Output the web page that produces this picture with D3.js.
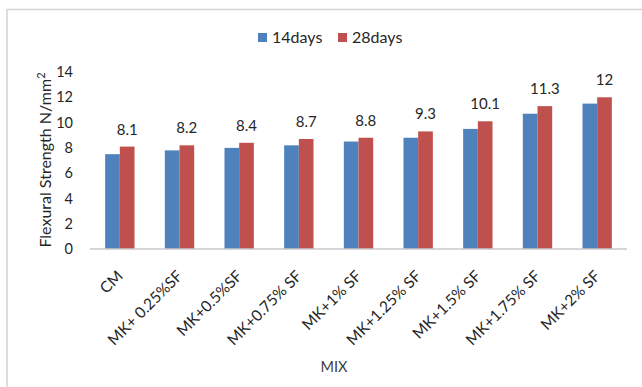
<!DOCTYPE html>
<html>
<head>
<meta charset="utf-8">
<script src="https://cdn.jsdelivr.net/npm/d3@7"></script>
<style>
  html, body { margin: 0; padding: 0; background: #fff; }
  svg { display: block; font-family: Lato, "Open Sans", sans-serif; }
</style>
</head>
<body>
<svg id="chart" width="642" height="387"></svg>
<script>
// Flexural strength of the mixes at 14 and 28 days
const categories = ["CM", "MK+ 0.25%SF", "MK+0.5%SF", "MK+0.75% SF", "MK+1% SF",
                    "MK+1.25% SF", "MK+1.5% SF", "MK+1.75% SF", "MK+2% SF"];
const seriesNames = ["14days", "28days"];
const days14 = [7.5, 7.8, 8.0, 8.2, 8.5, 8.8, 9.5, 10.7, 11.5];
const days28 = [8.1, 8.2, 8.4, 8.7, 8.8, 9.3, 10.1, 11.3, 12];
const yTicks = [0, 2, 4, 6, 8, 10, 12, 14];
const colors = ["#4F81BD", "#C0504D"];

const svg = d3.select("#chart");

// chart frame
svg.append("rect")
  .attr("x", 7).attr("y", 9.5)
  .attr("width", 660).attr("height", 400)
  .attr("fill", "none").attr("stroke", "#d4d4d4").attr("stroke-width", 1.5);

const plot = { left: 90, right: 627, top: 72, bottom: 249 };

const x0 = d3.scaleBand().domain(categories).range([plot.left, plot.right]).padding(0);
const x1 = d3.scaleBand().domain(seriesNames)
  .range([x0.bandwidth() * 0.254, x0.bandwidth() * 0.746]).padding(0);
const y = d3.scaleLinear().domain([0, 14]).range([plot.bottom, plot.top]);

const rows = categories.map((c, i) => ({ cat: c, vals: [days14[i], days28[i]] }));

// bars
const groups = svg.append("g").selectAll("g").data(rows).join("g")
  .attr("transform", d => `translate(${x0(d.cat)},0)`);
groups.selectAll("rect")
  .data(d => d.vals.map((v, k) => ({ key: seriesNames[k], v, k })))
  .join("rect")
  .attr("x", d => x1(d.key))
  .attr("width", x1.bandwidth())
  .attr("y", d => y(d.v))
  .attr("height", d => y(0) - y(d.v))
  .attr("fill", d => colors[d.k]);

// value labels for the 28-day series
groups.append("text")
  .attr("x", d => x1("28days") + x1.bandwidth() / 2)
  .attr("y", d => y(d.vals[1]) - 12)
  .attr("text-anchor", "middle")
  .attr("font-size", 15)
  .attr("fill", "#262626")
  .text(d => d3.format("~g")(d.vals[1]));

// x axis line
svg.append("line")
  .attr("x1", plot.left).attr("x2", plot.right)
  .attr("y1", y(0)).attr("y2", y(0))
  .attr("stroke", "#c8c8c8").attr("stroke-width", 1.5);

// y axis tick labels
const yAxis = d3.axisLeft(y).tickValues(yTicks).tickSize(0).tickPadding(0);
const yg = svg.append("g").attr("transform", `translate(73,0)`).call(yAxis);
yg.select(".domain").remove();
yg.selectAll("text")
  .attr("font-family", "Lato, 'Open Sans', sans-serif")
  .attr("font-size", 14.5)
  .attr("fill", "#262626");

// category labels
svg.append("g").selectAll("text").data(categories).join("text")
  .attr("transform", d => `translate(${x0(d) + x0.bandwidth() / 2 + 4},277) rotate(-45)`)
  .attr("text-anchor", "end")
  .attr("font-size", 15.5)
  .attr("fill", "#262626")
  .text(d => d);

// axis titles
svg.append("text")
  .attr("x", 334).attr("y", 372)
  .attr("text-anchor", "middle")
  .attr("font-size", 14.5)
  .attr("fill", "#404040")
  .text("MIX");

const yt = svg.append("text")
  .attr("transform", "translate(51,160) rotate(-90)")
  .attr("text-anchor", "middle")
  .attr("font-size", 16)
  .attr("fill", "#262626");
yt.append("tspan").text("Flexural  Strength N/mm");
yt.append("tspan").attr("dy", -6).attr("font-size", 11).text("2");

// legend
const legend = svg.append("g").attr("transform", "translate(258,33)");
const li = legend.selectAll("g").data(seriesNames).join("g")
  .attr("transform", (d, i) => `translate(${i * 80},0)`);
li.append("rect").attr("width", 9).attr("height", 9).attr("fill", (d, i) => colors[i]);
li.append("text").attr("x", 14).attr("y", 9.5)
  .attr("font-size", 16).attr("fill", "#262626").text(d => d);
</script>
</body>
</html>
